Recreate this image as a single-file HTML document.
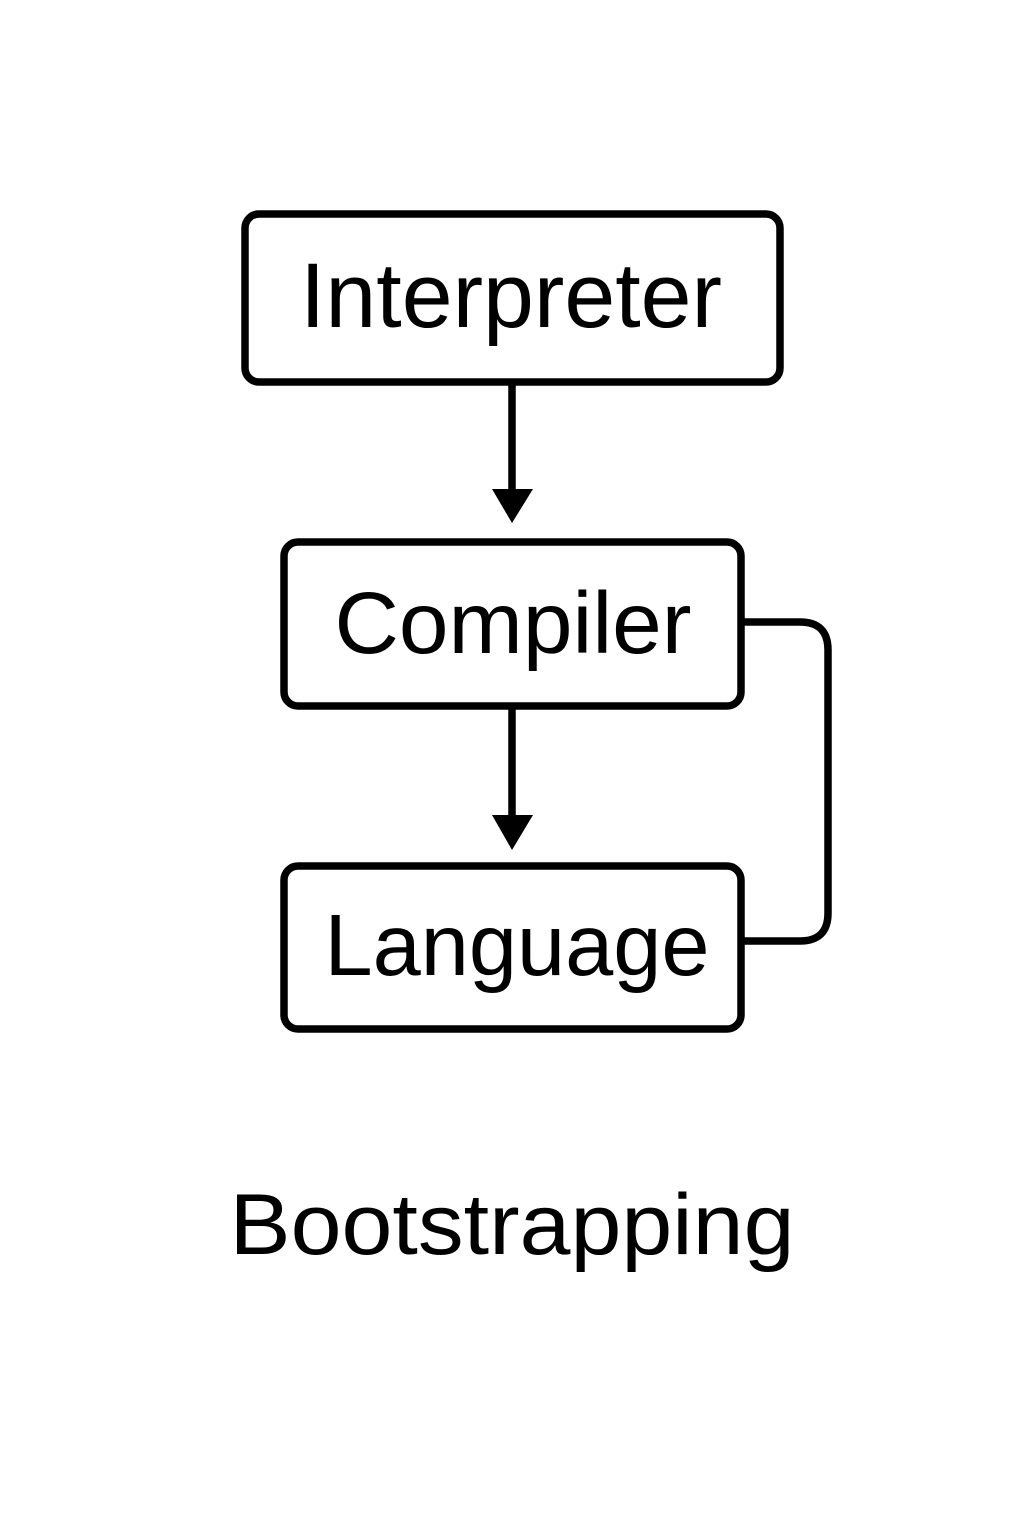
<!DOCTYPE html>
<html><head><meta charset="utf-8"><style>
html,body{margin:0;padding:0;background:#fff;}
svg{display:block}
text{font-family:"Liberation Sans","DejaVu Sans",sans-serif;fill:#000;text-anchor:middle}
</style></head><body>
<svg width="1024" height="1536" viewBox="0 0 1024 1536" xmlns="http://www.w3.org/2000/svg">
<g fill="none" stroke="#000" stroke-width="7.5" stroke-linejoin="round">
<rect x="245" y="214" width="535" height="168" rx="14"/>
<rect x="284" y="542" width="457" height="164" rx="14"/>
<rect x="284" y="866" width="457" height="163" rx="14"/>
<line x1="512" y1="382" x2="512" y2="495"/>
<line x1="512" y1="706" x2="512" y2="820"/>
<path d="M741 622 H800 Q828 622 828 650 V913 Q828 941 800 941 H741"/>
</g>
<polygon points="492,489 533,489 512,523" fill="#000"/>
<polygon points="492,815 533,815 512,850" fill="#000"/>
<text x="511" y="327" font-size="92" textLength="422" lengthAdjust="spacingAndGlyphs">Interpreter</text>
<text x="513" y="653" font-size="87" textLength="357" lengthAdjust="spacingAndGlyphs">Compiler</text>
<text x="517" y="975" font-size="87" textLength="385" lengthAdjust="spacingAndGlyphs">Language</text>
<text x="512" y="1254" font-size="86" textLength="565" lengthAdjust="spacingAndGlyphs">Bootstrapping</text>
</svg>
</body></html>
